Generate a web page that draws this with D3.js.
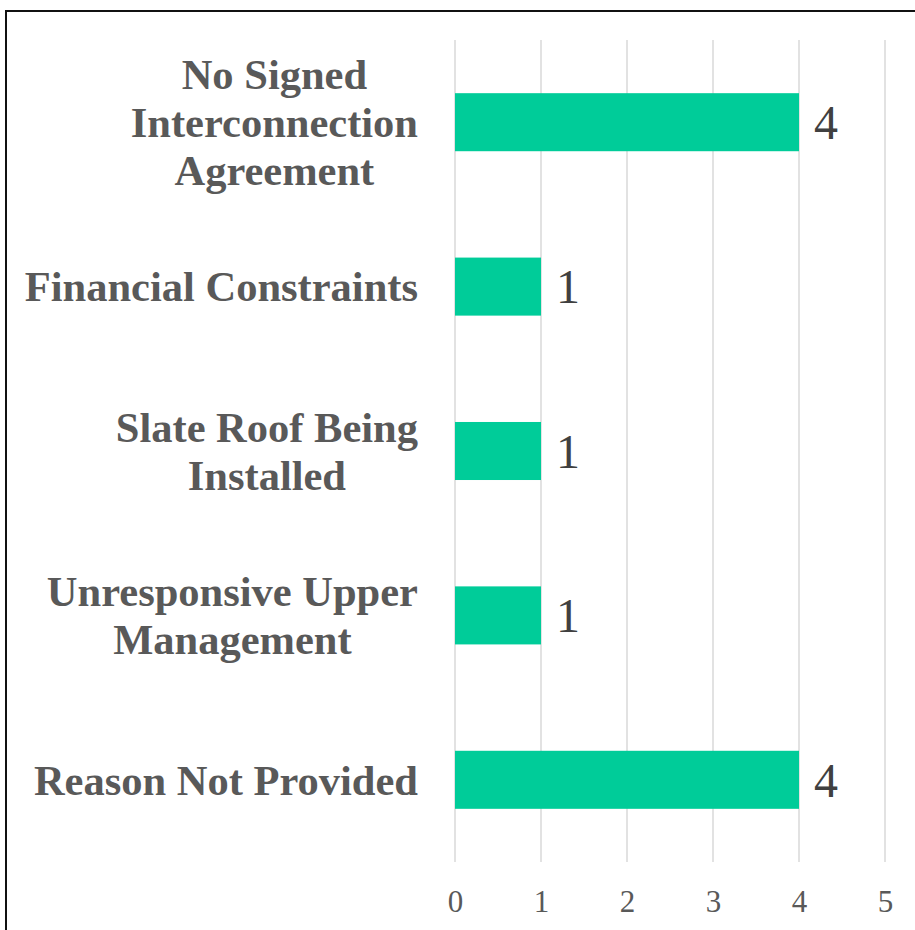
<!DOCTYPE html>
<html>
<head>
<meta charset="utf-8">
<script src="https://cdn.jsdelivr.net/npm/d3@7"></script>
<style>
  html, body { margin: 0; padding: 0; background: #fff; }
  svg { display: block; }
</style>
</head>
<body>
<svg id="chart" width="915" height="930"></svg>
<script>
// Reasons projects were not completed, with project counts
const categories = [
  "No Signed Interconnection Agreement",
  "Financial Constraints",
  "Slate Roof Being Installed",
  "Unresponsive Upper Management",
  "Reason Not Provided"
];
const counts = [4, 1, 1, 1, 4];
const xTicks = [0, 1, 2, 3, 4, 5];

const W = 915, H = 930;
const svg = d3.select("#chart");
const serif = "'Liberation Serif', 'Times New Roman', serif";

const plot = { left: 455, right: 885, top: 40, bottom: 862 };

const x = d3.scaleLinear().domain([0, 5]).range([plot.left, plot.right]);
const y = d3.scaleBand()
  .domain(categories)
  .range([plot.top, plot.bottom])
  .paddingInner(0.647)
  .paddingOuter(0.3235);

// Vertical gridlines
svg.append("g")
  .selectAll("line")
  .data(xTicks)
  .join("line")
  .attr("x1", d => x(d)).attr("x2", d => x(d))
  .attr("y1", plot.top).attr("y2", plot.bottom)
  .attr("stroke", "#d9d9d9")
  .attr("stroke-width", 1.5);

// Bottom axis tick labels
const xAxis = d3.axisBottom(x).tickValues(xTicks).tickFormat(d3.format("d")).tickSize(0).tickPadding(0);
const gx = svg.append("g").attr("transform", `translate(0,${plot.bottom})`).call(xAxis);
gx.select(".domain").remove();
gx.selectAll("text")
  .attr("dy", null)
  .attr("y", 50)
  .attr("font-family", serif)
  .attr("font-size", 31)
  .attr("fill", "#595959");

// Bars
svg.append("g")
  .selectAll("rect")
  .data(categories)
  .join("rect")
  .attr("x", x(0))
  .attr("y", d => y(d))
  .attr("width", (d, i) => x(counts[i]) - x(0))
  .attr("height", y.bandwidth())
  .attr("fill", "#00cc99");

// Value labels
svg.append("g")
  .selectAll("text")
  .data(categories)
  .join("text")
  .attr("x", (d, i) => x(counts[i]) + 15)
  .attr("y", d => y(d) + y.bandwidth() / 2)
  .attr("dy", "0.35em")
  .attr("font-family", serif)
  .attr("font-size", 48)
  .attr("fill", "#404040")
  .text((d, i) => counts[i]);

// Category labels: word-wrapped, lines centred within a right-aligned block
const labelRight = 418, wrapWidth = 405, lineHeight = 48;
const gy = svg.append("g")
  .attr("font-family", serif)
  .attr("font-size", 42.5)
  .attr("font-weight", "bold")
  .attr("fill", "#595959");

categories.forEach(cat => {
  const t = gy.append("text").attr("text-anchor", "middle");
  const words = cat.split(" ");
  const lines = [];
  let cur = [];
  const probe = t.append("tspan");
  words.forEach(w => {
    const trial = cur.concat([w]).join(" ");
    probe.text(trial);
    if (cur.length && probe.node().getComputedTextLength() > wrapWidth) {
      lines.push(cur.join(" "));
      cur = [w];
    } else {
      cur.push(w);
    }
  });
  if (cur.length) lines.push(cur.join(" "));
  probe.remove();

  let maxW = 0;
  lines.forEach(l => {
    const s = t.append("tspan").text(l);
    maxW = Math.max(maxW, s.node().getComputedTextLength());
    s.remove();
  });
  const cx = labelRight - maxW / 2;
  const cy = y(cat) + y.bandwidth() / 2;
  const y0 = cy - (lines.length - 1) * lineHeight / 2;
  lines.forEach((l, i) => {
    t.append("tspan")
      .attr("x", cx)
      .attr("y", y0 + i * lineHeight)
      .attr("dy", "0.35em")
      .text(l);
  });
});

// Frame
svg.append("rect")
  .attr("x", 6).attr("y", 11)
  .attr("width", W + 20).attr("height", H + 20)
  .attr("fill", "none")
  .attr("stroke", "#111")
  .attr("stroke-width", 2);
</script>
</body>
</html>
